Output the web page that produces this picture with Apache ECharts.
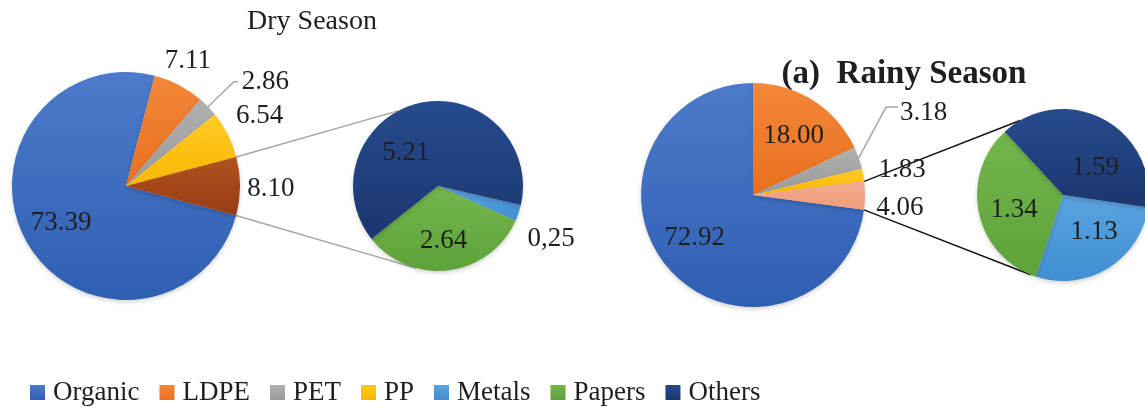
<!DOCTYPE html>
<html>
<head>
<meta charset="utf-8">
<title>Waste composition - dry and rainy season</title>
<script src="https://cdn.jsdelivr.net/npm/echarts@6/dist/echarts.min.js"></script>
<style>
  html, body { margin: 0; padding: 0; background: #fff; }
  #chart { width: 1145px; height: 407px; }
</style>
</head>
<body>
<div id="chart"></div>
<script>
  // categories shown in the legend
  const legendNames = ['Organic', 'LDPE', 'PET', 'PP', 'Metals', 'Papers', 'Others'];

  // main pies: the last slice is the group that is split into the small pie
  const mainNames = ['Organic', 'LDPE', 'PET', 'PP', 'Metals + Papers + Others'];
  const dryMain = [73.39, 7.11, 2.86, 6.54, 8.10];
  const rainyMain = [72.92, 18.00, 3.18, 1.83, 4.06];

  // small pies (detail of the grouped slice)
  const subNames = ['Metals', 'Papers', 'Others'];
  const drySub = [0.25, 2.64, 5.21];
  const rainySub = [1.13, 1.34, 1.59];

  // label texts as printed in the figure
  const dryMainLabels = ['73.39', '7.11', '2.86', '6.54', '8.10'];
  const drySubLabels = ['0,25', '2.64', '5.21'];
  const rainyMainLabels = ['72.92', '18.00', '3.18', '1.83', '4.06'];
  const rainySubLabels = ['1.13', '1.34', '1.59'];

  // colours (top / bottom of the slight shading)
  const colors = {
    'Organic': ['#4c7bcb', '#2f5fb2'],
    'LDPE': ['#f3873a', '#e96f1f'],
    'PET': ['#b0b0b0', '#9a9a9a'],
    'PP': ['#ffc926', '#f9b800'],
    'Metals': ['#5ba3e0', '#3f8fd2'],
    'Papers': ['#72b64c', '#5ea23a'],
    'Others': ['#274b8c', '#1b3670'],
    'dryGroup': ['#b1521f', '#973b14'],
    'rainyGroup': ['#f3ab8d', '#ee9c7c']
  };
  const shade = (c) => new echarts.graphic.LinearGradient(0, 0, 0, 1, [
    { offset: 0, color: c[0] }, { offset: 1, color: c[1] }
  ]);

  // layout
  const dry = { center: [126, 186], r: 114, start: -15 };
  const drySmall = { center: [438, 186], r: 85, start: -13 };
  const rainy = { center: [753, 195], r: 112, start: -7.6 };
  const rainySmall = { center: [1063, 195], r: 86, start: -8.3 };

  const serif = 'Liberation Serif, Times New Roman, serif';
  const labelFont = { fontFamily: serif, fontSize: 27, color: '#1f1f1f' };

  // label nudges from the default position
  const dryMainShift = [[-13, 7], [34, -72], null, [80, -43], [85, 3]];
  const drySubShift = [[70, 38], [0, 10], [-22, 11]];
  const rainyMainShift = [[-14, 4], [9, -9], [18, -42], [91, -15], [88, 13]];
  const rainySubShift = [[7, -2], [-4, 5], [11, 14]];

  function items(names, values, labels, groupKey, leaderIdx, leader) {
    return values.map((v, i) => {
      const key = i === 4 && groupKey ? groupKey : names[i];
      const it = {
        name: names[i],
        value: v,
        itemStyle: { color: shade(colors[key]) },
        label: { formatter: labels[i] }
      };
      if (i === leaderIdx) {
        it.label = Object.assign({ position: 'outside', padding: [0, 0, 16, 0], distanceToLabelLine: 4 }, it.label);
        it.labelLine = Object.assign({ show: true, lineStyle: { color: '#a6a6a6', width: 1.5 } }, leader);
      }
      return it;
    });
  }

  function pie(geom, data, shift, leaderIdx) {
    return {
      type: 'pie',
      center: geom.center,
      radius: geom.r,
      startAngle: geom.start,
      clockwise: true,
      avoidLabelOverlap: false,
      animation: false,
      silent: true,
      label: Object.assign({ show: true, position: 'inside' }, labelFont),
      labelLine: { show: false },
      labelLayout: (p) => {
        const s = shift[p.dataIndex];
        if (!s) return {};
        const out = { dx: s[0], dy: s[1] };
        // moved leader label: redraw its line from the slice edge to the text
        if (p.dataIndex === leaderIdx && p.labelLinePoints) {
          const r = p.labelRect;
          const end = [r.x + s[0] - 2, r.y + s[1] + (r.height - 16) * 0.72];
          out.labelLinePoints = [p.labelLinePoints[0], [end[0] - 12, end[1]], end];
        }
        return out;
      },
      itemStyle: { borderWidth: 0, shadowBlur: 4, shadowColor: 'rgba(0,0,0,0.18)', shadowOffsetY: 2 },
      data: data
    };
  }

  // connector lines between grouped slice and the small pie
  function polar(c, r, deg) {
    const a = deg * Math.PI / 180;
    return [c[0] + r * Math.cos(a), c[1] - r * Math.sin(a)];
  }
  function connectors(main, values, small, upAngle, downAngle, color) {
    const total = values.reduce((a, b) => a + b, 0);
    const before = values.slice(0, 4).reduce((a, b) => a + b, 0);
    const topA = main.start - before / total * 360;
    const p1 = polar(main.center, main.r, topA);
    const p2 = polar(main.center, main.r, main.start);
    const q1 = polar(small.center, small.r, upAngle);
    const q2 = polar(small.center, small.r, downAngle);
    const style = { stroke: color, lineWidth: 1.4 };
    return [
      { type: 'line', z: -1, silent: true, shape: { x1: p1[0], y1: p1[1], x2: q1[0], y2: q1[1] }, style },
      { type: 'line', z: -1, silent: true, shape: { x1: p2[0], y1: p2[1], x2: q2[0], y2: q2[1] }, style }
    ];
  }

  const chart = echarts.init(document.getElementById('chart'));
  chart.setOption({
    backgroundColor: '#fff',
    animation: false,
    title: [{
      text: 'Dry Season',
      left: 312, top: 8, textAlign: 'center', padding: 0,
      textStyle: { fontFamily: serif, fontSize: 28, fontWeight: 'normal', color: '#1f1f1f' }
    }, {
      text: '(a)  Rainy Season',
      left: 904, top: 58, textAlign: 'center', padding: 0,
      textStyle: { fontFamily: serif, fontSize: 33, fontWeight: 'bold', color: '#1f1f1f' }
    }],
    legend: {
      data: legendNames,
      left: 25, top: 374,
      icon: 'rect',
      itemWidth: 15, itemHeight: 15,
      itemGap: 20,
      selectedMode: false,
      textStyle: { fontFamily: serif, fontSize: 27, color: '#1f1f1f', padding: [0, 0, 0, 3] }
    },
    graphic: [].concat(
      connectors(dry, dryMain, drySmall, 118, -105, '#a6a6a6'),
      connectors(rainy, rainyMain, rainySmall, 120, -112, '#111')
    ),
    series: [
      pie(dry, items(mainNames, dryMain, dryMainLabels, 'dryGroup', 2, { length: 36, length2: 4 }), dryMainShift, -1),
      pie(drySmall, items(subNames, drySub, drySubLabels), drySubShift, -1),
      pie(rainy, items(mainNames, rainyMain, rainyMainLabels, 'rainyGroup', 2, { length: 10, length2: 10 }), rainyMainShift, 2),
      pie(rainySmall, items(subNames, rainySub, rainySubLabels), rainySubShift, -1)
    ]
  });
</script>
</body>
</html>
